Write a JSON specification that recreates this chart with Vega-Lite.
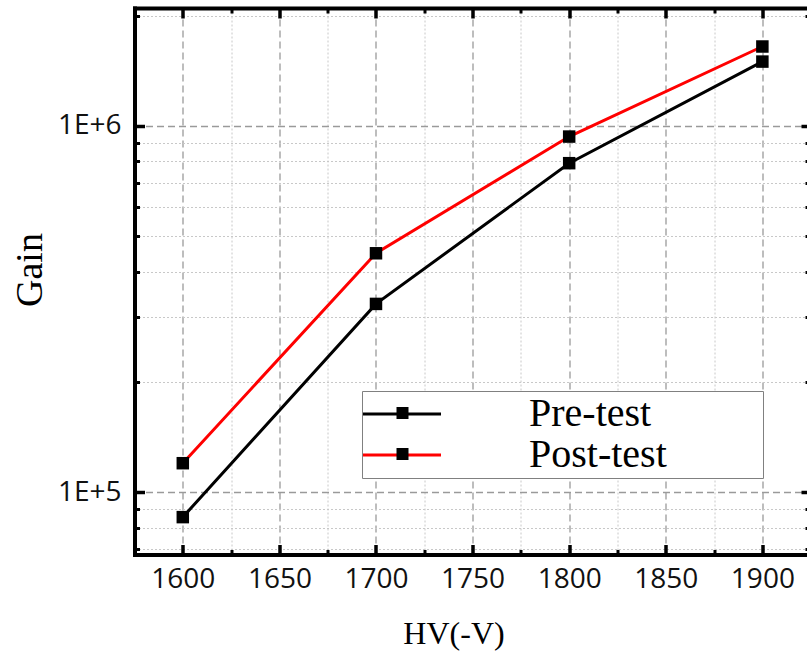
{
  "$schema": "https://vega.github.io/schema/vega-lite/v6.json",
  "width": 672.5,
  "height": 546.5,
  "autosize": {"type": "none"},
  "padding": {"left": 134.5, "top": 8, "right": 0, "bottom": 101.5},
  "background": "white",
  "config": {"view": {"stroke": null}},
  "data": {
    "values": [
      {"hv": 1600, "gain": 85500, "series": "Pre-test"},
      {"hv": 1700, "gain": 326600, "series": "Pre-test"},
      {"hv": 1800, "gain": 791000, "series": "Pre-test"},
      {"hv": 1900, "gain": 1498000, "series": "Pre-test"},
      {"hv": 1600, "gain": 120000, "series": "Post-test"},
      {"hv": 1700, "gain": 449000, "series": "Post-test"},
      {"hv": 1800, "gain": 935000, "series": "Post-test"},
      {"hv": 1900, "gain": 1647000, "series": "Post-test"}
    ]
  },
  "layer": [
    {
      "mark": {"type": "line", "strokeWidth": 3},
      "encoding": {
        "x": {
          "field": "hv", "type": "quantitative",
          "scale": {"domain": [1575, 1923.1], "nice": false, "zero": false},
          "axis": {
            "orient": "bottom",
            "values": [1600, 1650, 1700, 1750, 1800, 1850, 1900],
            "format": "d",
            "grid": true, "gridDash": [7, 4], "gridColor": "#9a9a9a", "gridWidth": 1.3,
            "domain": true, "domainColor": "black", "domainWidth": 4, "domainCap": "square",
            "ticks": true, "tickColor": "black", "tickWidth": 3.5, "tickSize": -10,
            "labelFont": "Open Sans", "labelFontSize": 28, "labelColor": "#111", "labelPadding": 20.5,
            "title": "HV(-V)", "titleFont": "Liberation Serif", "titleFontSize": 32, "titleFontWeight": "normal",
            "titleColor": "black", "titleX": 319, "titleY": 88.5, "titleBaseline": "alphabetic", "titleAlign": "center"
          }
        },
        "y": {
          "field": "gain", "type": "quantitative",
          "scale": {"type": "log", "domain": [67600, 2098000], "nice": false},
          "axis": {
            "orient": "left",
            "values": [100000, 1000000],
            "labelExpr": "'1E+' + round(log(datum.value)/LN10)",
            "grid": true, "gridDash": [7, 4], "gridColor": "#9a9a9a", "gridWidth": 1.3,
            "domain": true, "domainColor": "black", "domainWidth": 4, "domainCap": "square",
            "ticks": true, "tickColor": "black", "tickWidth": 3.5, "tickSize": -10,
            "labelFont": "Open Sans", "labelFontSize": 28, "labelColor": "#111", "labelPadding": 23.5,
            "title": "Gain", "titleFont": "Liberation Serif", "titleFontSize": 38, "titleFontWeight": "normal",
            "titleColor": "black", "titleX": -93, "titleY": 261.5, "titleAngle": 270,
            "titleBaseline": "alphabetic", "titleAlign": "center"
          }
        },
        "color": {
          "field": "series", "type": "nominal",
          "scale": {"domain": ["Pre-test", "Post-test"], "range": ["#000000", "#ff0000"]},
          "legend": {
            "orient": "none", "legendX": 227.5, "legendY": 383, "direction": "vertical",
            "title": "\u00a0", "titleOrient": "right", "titleFontSize": 10, "titlePadding": 92.7,
            "symbolType": "M-3,0H3", "symbolSize": 676, "symbolStrokeWidth": 3, "symbolOffset": 17,
            "labelFont": "Liberation Serif", "labelFontSize": 40, "labelColor": "black", "labelOffset": 107,
            "padding": 3, "rowPadding": 1,
            "fillColor": "white", "strokeColor": "#808080"
          }
        }
      }
    },
    {
      "mark": {"type": "point", "filled": true, "size": 156, "color": "black", "opacity": 1},
      "encoding": {
        "x": {
          "field": "hv", "type": "quantitative",
          "axis": {
            "orient": "bottom",
            "values": [1625, 1675, 1725, 1775, 1825, 1875],
            "grid": true, "gridDash": [2, 2], "gridColor": "#c8c8c8", "gridWidth": 1,
            "domain": false, "ticks": true, "tickColor": "black", "tickWidth": 3, "tickSize": -5,
            "labels": false, "title": null
          }
        },
        "y": {
          "field": "gain", "type": "quantitative",
          "axis": {
            "orient": "left",
            "values": [70000, 80000, 90000, 200000, 300000, 400000, 500000, 600000, 700000, 800000, 900000, 2000000],
            "grid": true, "gridDash": [2, 2], "gridColor": "#c8c8c8", "gridWidth": 1,
            "domain": false, "ticks": true, "tickColor": "black", "tickWidth": 3, "tickSize": -5,
            "labels": false, "title": null
          }
        },
        "shape": {
          "field": "series", "type": "nominal", "sort": ["Pre-test", "Post-test"],
          "scale": {"range": ["square", "square"]},
          "legend": {
            "orient": "none", "legendX": 259, "legendY": 396, "direction": "vertical", "title": null,
            "symbolSize": 144, "symbolFillColor": "black", "symbolStrokeColor": "black", "symbolStrokeWidth": 0,
            "labelExpr": "''", "labelFontSize": 1, "labelOffset": 0,
            "padding": 3, "rowPadding": 29
          }
        }
      }
    },
    {
      "mark": {"type": "point", "opacity": 0},
      "encoding": {
        "x": {
          "field": "hv", "type": "quantitative",
          "axis": {
            "orient": "top",
            "values": [1600, 1650, 1700, 1750, 1800, 1850, 1900],
            "grid": false, "domain": true, "domainColor": "black", "domainWidth": 4, "domainCap": "square",
            "ticks": true, "tickColor": "black", "tickWidth": 3.5, "tickSize": -10,
            "labels": false, "title": null
          }
        },
        "y": {
          "field": "gain", "type": "quantitative",
          "axis": {
            "orient": "right",
            "values": [100000, 1000000],
            "grid": false, "domain": false,
            "ticks": true, "tickColor": "black", "tickWidth": 3.5, "tickSize": -6,
            "labels": false, "title": null
          }
        }
      }
    },
    {
      "mark": {"type": "point", "opacity": 0},
      "encoding": {
        "x": {
          "field": "hv", "type": "quantitative",
          "axis": {
            "orient": "top",
            "values": [1625, 1675, 1725, 1775, 1825, 1875],
            "grid": false, "domain": false,
            "ticks": true, "tickColor": "black", "tickWidth": 3, "tickSize": -5,
            "labels": false, "title": null
          }
        },
        "y": {
          "field": "gain", "type": "quantitative",
          "axis": {
            "orient": "right",
            "values": [70000, 80000, 90000, 200000, 300000, 400000, 500000, 600000, 700000, 800000, 900000, 2000000],
            "grid": false, "domain": false,
            "ticks": true, "tickColor": "black", "tickWidth": 3, "tickSize": -2,
            "labels": false, "title": null
          }
        }
      }
    }
  ],
  "resolve": {"axis": {"x": "independent", "y": "independent"}}
}
